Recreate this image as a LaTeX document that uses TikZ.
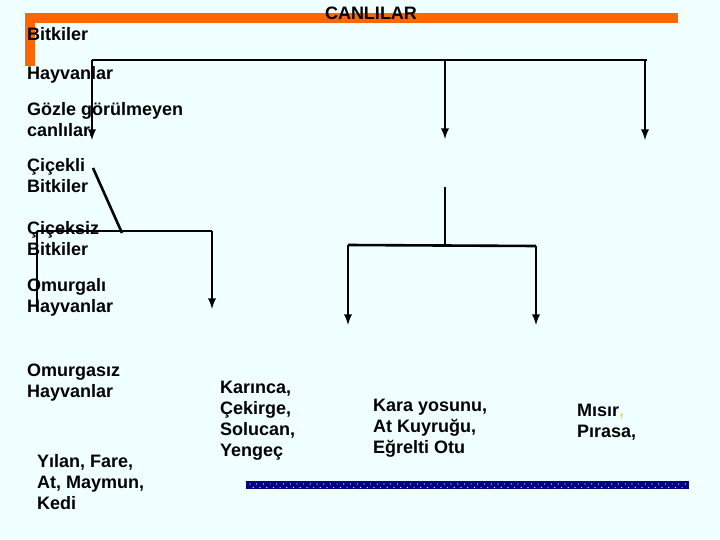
\documentclass[tikz,border=0pt]{standalone}
\usepackage{fontspec}
\setmainfont{Liberation Sans}
\usetikzlibrary{arrows}

\definecolor{bgcyan}{RGB}{240,255,255}
\definecolor{barorange}{RGB}{255,102,0}
\definecolor{barnavy}{RGB}{0,0,128}
\definecolor{commayellow}{RGB}{230,220,120}

\begin{document}
\begin{tikzpicture}[x=1pt,y=-1pt,>=latex]
\tikzstyle{label} = [anchor=base west, inner sep=0pt, align=left,
font=\fontsize{18}{21}\selectfont\bfseries]
\tikzstyle{line} = [draw, line width=2.6pt];
\tikzstyle{arrowline} = [line, ->];

% background and frame
\fill[bgcyan] (0,0) rectangle (720,540);
\useasboundingbox (0,0) rectangle (720,540);
\fill[barorange] (25,13) rectangle (678,23);
\fill[barorange] (25,13) rectangle (35,66);
\fill[barnavy] (246,481) rectangle (689,489);
\foreach \x in {250,256.7,...,686}
  \fill[white] (\x,484) circle (0.6);
\foreach \x in {253.3,260,...,686}
  \fill[white] (\x,487.5) circle (0.6);

% labels (placed at the baseline of their last line)
\node [label, anchor=base] (canlilar) at (371,20) {CANLILAR};
\node [label] (bitkiler) at (27,41) {Bitkiler};
\node [label] (hayvanlar) at (27,80) {Hayvanlar};
\node [label] (gozle) at (27,137) {Gözle görülmeyen\\canlılar.};
\node [label] (cicekli) at (27,193) {Çiçekli\\Bitkiler};
\node [label] (ciceksiz) at (27,255) {Çiçeksiz\\Bitkiler};
\node [label] (omurgali) at (27,312) {Omurgalı\\Hayvanlar};
\node [label] (omurgasiz) at (27,397) {Omurgasız\\Hayvanlar};
\node [label] (yilan) at (37,509) {Yılan, Fare,\\At, Maymun,\\Kedi};
\node [label] (karinca) at (220,456) {Karınca,\\Çekirge,\\Solucan,\\Yengeç};
\node [label] (kara) at (373,453) {Kara yosunu,\\At Kuyruğu,\\Eğrelti Otu};
\node [label] (misir) at (577,437) {Mısır{\color{commayellow},}\\Pırasa,};

% junctions
\coordinate (topL) at (92,60);
\coordinate (topM) at (445,60);
\coordinate (topR) at (647,60);
\coordinate (midL) at (37,231);
\coordinate (midR) at (212,231);
\coordinate (lowL) at (348,245);
\coordinate (lowM) at (445,245);
\coordinate (lowR) at (536,246);

% connectors
\path [line] (topL) -- (topR);
\path [arrowline] (topL) -- (92,140);
\path [arrowline] (topM) -- (445,139);
\path [arrowline] (645,60) -- (645,140);
\path [line] (93,168) -- (122,233);
\path [line] (midL) -- (midR);
\path [line] (midL) -- (37,310);
\path [arrowline] (midR) -- (212,309);
\path [line] (445,187) -- (lowM);
\path [line] (lowL) -- (lowR);
\path [arrowline] (lowL) -- (348,325);
\path [arrowline] (lowR) -- (536,325);
\end{tikzpicture}
\end{document}
